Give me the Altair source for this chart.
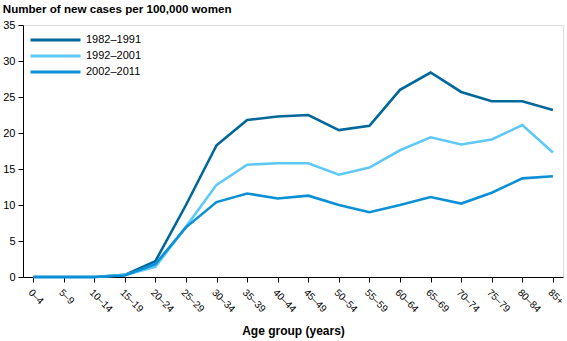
import altair as alt
import pandas as pd

ages = ["0–4", "5–9", "10–14", "15–19", "20–24", "25–29", "30–34", "35–39", "40–44",
        "45–49", "50–54", "55–59", "60–64", "65–69", "70–74", "75–79", "80–84", "85+"]
series_names = ["1982–1991", "1992–2001", "2002–2011"]
s1982 = [0.0, 0.0, 0.0, 0.3, 2.2, 10.0, 18.3, 21.8, 22.3, 22.5, 20.4, 21.0, 26.0, 28.4, 25.7, 24.4, 24.4, 23.2]
s1992 = [0.0, 0.0, 0.0, 0.3, 1.4, 7.0, 12.8, 15.6, 15.8, 15.8, 14.2, 15.2, 17.6, 19.4, 18.4, 19.1, 21.1, 17.3]
s2002 = [0.0, 0.0, 0.0, 0.2, 1.8, 6.9, 10.4, 11.6, 10.9, 11.3, 10.0, 9.0, 10.0, 11.1, 10.2, 11.7, 13.7, 14.0]
colors = ["#00679A", "#5EC8F6", "#0A90D6"]

rows = []
for name, vals in zip(series_names, [s1982, s1992, s2002]):
    for i, (a, v) in enumerate(zip(ages, vals)):
        rows.append({"age": a, "value": v, "period": name, "order": i})
df = pd.DataFrame(rows)

FONT = "Liberation Sans"

chart = alt.Chart(df).mark_line(strokeWidth=2.6).encode(
    x=alt.X("age:N", sort=ages,
            scale=alt.Scale(type="point", padding=0.33),
            axis=alt.Axis(title="Age group (years)", labelAngle=45, labelAlign="left",
                          labelBaseline="top", labelPadding=5, labelFontSize=10,
                          labelFont=FONT, labelColor="#000", tickSize=5, tickColor="#000",
                          domainColor="#000", titleFont=FONT, titleFontSize=12,
                          titleFontWeight="bold", titleColor="#000", titleY=48,
                          titleBaseline="top", grid=False, labelOverlap=False)),
    y=alt.Y("value:Q", scale=alt.Scale(domain=[0, 35]),
            axis=alt.Axis(title=None, values=[0, 5, 10, 15, 20, 25, 30, 35],
                          labelFontSize=11, labelFont=FONT, labelColor="#000",
                          tickSize=5, tickColor="#000", domainColor="#000",
                          labelPadding=3, grid=False)),
    color=alt.Color("period:N", sort=series_names,
                    scale=alt.Scale(domain=series_names, range=colors),
                    legend=alt.Legend(title=None, orient="none", legendX=6, legendY=7,
                                      symbolType="stroke", symbolSize=2500,
                                      symbolStrokeWidth=3, labelFontSize=11,
                                      labelFont=FONT, labelColor="#000",
                                      clipHeight=16, rowPadding=0, labelOffset=4)),
    order="order:Q",
).properties(
    width=540, height=252,
    title=alt.TitleParams("Number of new cases per 100,000 women", anchor="start",
                          offset=3, font=FONT, fontSize=11.6,
                          fontWeight="bold", color="#000"),
    autosize=alt.AutoSizeParams(type="none"),
    padding={"left": 23, "top": 25, "right": 4, "bottom": 64},
).configure_view(stroke=None).configure(background="white")

chart.save("out.html", embed_options={"renderer": "svg", "actions": False})
